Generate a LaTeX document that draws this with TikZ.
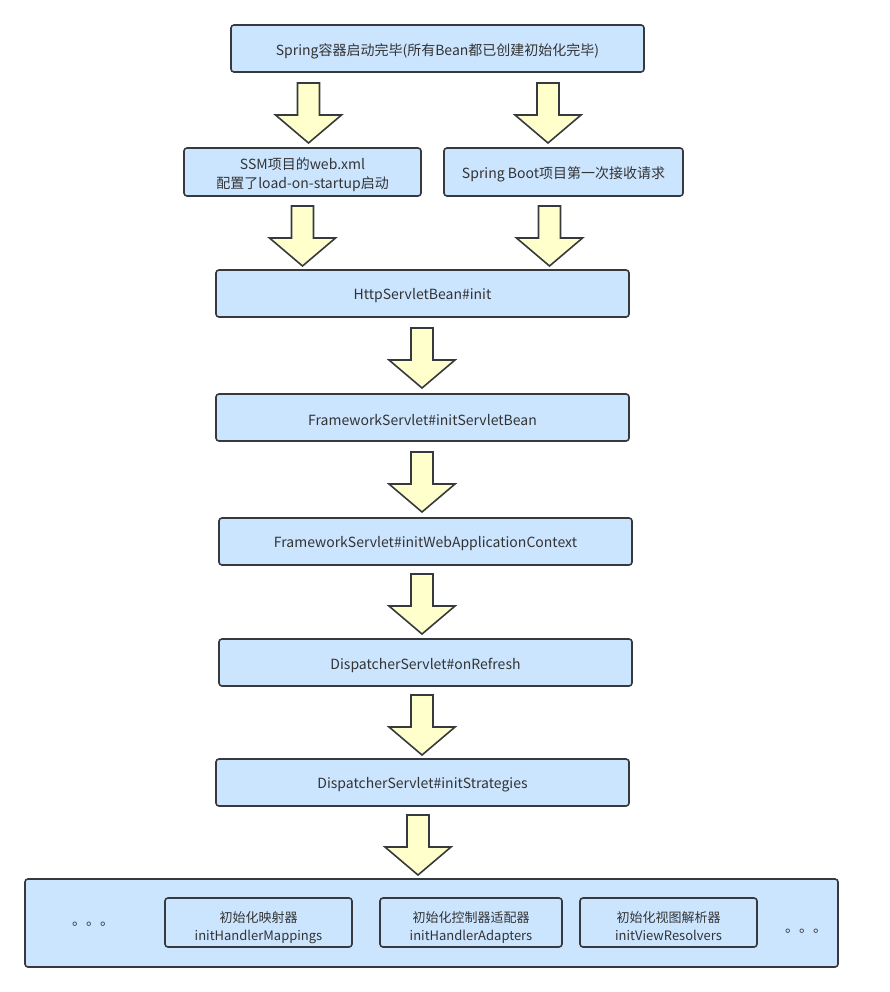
\documentclass[tikz,border=0pt]{standalone}
\usepackage{fontspec}
\setmainfont{Noto Sans CJK SC}
\begin{document}
\begin{tikzpicture}[x=1pt,y=-1pt,
  box/.style={draw=boxline, fill=boxfill, line width=1.6pt, rounded corners=3pt, inner sep=0pt},
  lbl/.style={inner sep=0pt, text=txt, align=center, font=\fontsize{14}{19}\selectfont, yshift=-2.5pt},
  slbl/.style={lbl, font=\fontsize{13}{18}\selectfont, yshift=-2.5pt},
  arrowstyle/.style={draw=boxline, fill=arrowfill, line width=1.6pt, line join=miter},
  darrow/.pic={\draw[arrowstyle] (-11,0) -- (11,0) -- (11,32) -- (33,32) -- (0,60) -- (-33,32) -- (-11,32) -- cycle;},
  dots/.style={inner sep=0pt, text=txt, font=\fontsize{14}{14}\selectfont}
]
\definecolor{boxfill}{HTML}{CCE5FF}
\definecolor{boxline}{HTML}{36393D}
\definecolor{arrowfill}{HTML}{FFFFCC}
\definecolor{txt}{HTML}{333333}
\useasboundingbox[fill=white] (0,0) rectangle (890,992);

\node[box, minimum width=413pt, minimum height=47pt, label={[lbl]center:{Spring容器启动完毕(所有Bean都已创建初始化完毕)}}] (top) at (437.5,48.5) {};
\node[box, minimum width=237pt, minimum height=48pt, label={[lbl]center:{SSM项目的web.xml\\配置了load-on-startup启动}}] (ssm) at (302.5,172) {};
\node[box, minimum width=239pt, minimum height=48pt, label={[lbl]center:{Spring Boot项目第一次接收请求}}] (boot) at (563.5,172) {};
\node[box, minimum width=413pt, minimum height=47pt, label={[lbl]center:{HttpServletBean\#init}}] (http) at (422.5,293.5) {};
\node[box, minimum width=413pt, minimum height=47pt, label={[lbl]center:{FrameworkServlet\#initServletBean}}] (fsb) at (422.5,417.5) {};
\node[box, minimum width=413pt, minimum height=47pt, label={[lbl]center:{FrameworkServlet\#initWebApplicationContext}}] (wac) at (425.5,541.5) {};
\node[box, minimum width=413pt, minimum height=47pt, label={[lbl]center:{DispatcherServlet\#onRefresh}}] (ref) at (425.5,662.5) {};
\node[box, minimum width=413pt, minimum height=47pt, label={[lbl]center:{DispatcherServlet\#initStrategies}}] (strat) at (422.5,782.5) {};
\node[box, minimum width=813pt, minimum height=88pt] (all) at (431.5,923) {};
\node[box, minimum width=187pt, minimum height=49pt, label={[slbl]center:{初始化映射器\\initHandlerMappings}}] (hm) at (258.5,922.5) {};
\node[box, minimum width=182pt, minimum height=49pt, label={[slbl]center:{初始化控制器适配器\\initHandlerAdapters\vphantom{g}}}] (ha) at (471,922.5) {};
\node[box, minimum width=177pt, minimum height=49pt, label={[slbl]center:{初始化视图解析器\\initViewResolvers\vphantom{g}}}] (vr) at (668.5,922.5) {};
\node[dots] (ldots) at (93,924) {。。。};
\node[dots] (rdots) at (806,931) {。。。};

\pic at (308.5,83) {darrow};
\pic at (548,83) {darrow};
\pic at (302.5,206) {darrow};
\pic at (549.5,206) {darrow};
\pic at (422,328) {darrow};
\pic at (422,452) {darrow};
\pic at (422,574) {darrow};
\pic at (422,695) {darrow};
\pic at (418,815) {darrow};
\end{tikzpicture}
\end{document}
